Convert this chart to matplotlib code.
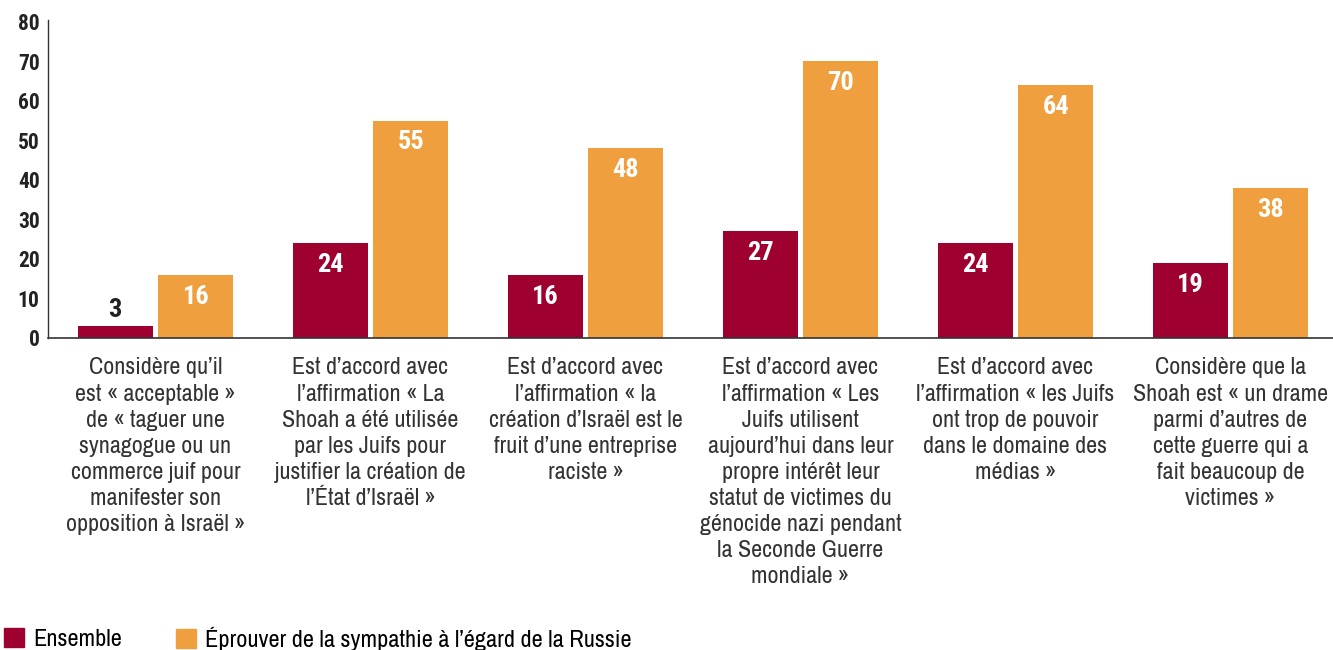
import matplotlib
matplotlib.use("Agg")
import matplotlib.pyplot as plt
from matplotlib.patches import Patch
from matplotlib import font_manager as fm
import numpy as np

names = {f.name for f in fm.fontManager.ttflist}
FONT = next((f for f in ["Archivo Narrow", "Roboto Condensed", "PT Sans Narrow", "IBM Plex Sans Condensed"]
             if f in names), "DejaVu Sans")
bold_ok = {f.name for f in fm.fontManager.ttflist
           if (isinstance(f.weight, int) and f.weight >= 700) or f.weight in ('bold', 'heavy', 'black')}
BOLD = next((f for f in ["Archivo Narrow", "Roboto Condensed", "Fira Sans Condensed", "Barlow Condensed",
                         "Asap Condensed", "PT Sans Narrow", "IBM Plex Sans Condensed", "Open Sans Condensed"]
             if f in bold_ok), "DejaVu Sans")
plt.rcParams['font.family'] = [FONT, 'DejaVu Sans']

categories = [
    "Considère qu’il\nest « acceptable »\nde « taguer une\nsynagogue ou un\ncommerce juif pour\nmanifester son\nopposition à Israël »",
    "Est d’accord avec\nl’affirmation « La\nShoah a été utilisée\npar les Juifs pour\njustifier la création de\nl’État d’Israël »",
    "Est d’accord avec\nl’affirmation « la\ncréation d’Israël est le\nfruit d’une entreprise\nraciste »",
    "Est d’accord avec\nl’affirmation « Les\nJuifs utilisent\naujourd’hui dans leur\npropre intérêt leur\nstatut de victimes du\ngénocide nazi pendant\nla Seconde Guerre\nmondiale »",
    "Est d’accord avec\nl’affirmation « les Juifs\nont trop de pouvoir\ndans le domaine des\nmédias »",
    "Considère que la\nShoah est « un drame\nparmi d’autres de\ncette guerre qui a\nfait beaucoup de\nvictimes »",
]
ensemble = [3, 24, 16, 27, 24, 19]
russie = [16, 55, 48, 70, 64, 38]
series_names = ["Ensemble", "Éprouver de la sympathie à l’égard de la Russie"]
yticks = [0, 10, 20, 30, 40, 50, 60, 70, 80]

RED = "#9E0030"
ORANGE = "#EF9F3E"

fig = plt.figure(figsize=(13.33, 6.5), dpi=100)
ax = fig.add_axes([48/1333, 1-338/650, 1-48/1333, 318/650])

x = np.arange(len(categories))
w = 0.349
off = 0.188
b1 = ax.bar(x - off, ensemble, w, color=RED)
b2 = ax.bar(x + off, russie, w, color=ORANGE)

ax.set_xlim(-0.5, 5.477)
ax.set_ylim(0, 80.5)
ax.set_yticks(yticks)
ax.set_yticklabels([str(t) for t in yticks], fontsize=15.5, fontweight='bold', color='#222222',
                   family=[BOLD, 'DejaVu Sans'])
ax.tick_params(axis='y', length=0, pad=6)
ax.set_xticks(x)
ax.set_xticklabels(categories, fontsize=17.3, color='#333333', linespacing=1.30, va='top')
ax.tick_params(axis='x', length=0, pad=14)

for s in ['top', 'right']:
    ax.spines[s].set_visible(False)
ax.spines['left'].set_color('#333333')
ax.spines['left'].set_linewidth(1.0)
ax.spines['bottom'].set_color('#333333')
ax.spines['bottom'].set_linewidth(1.2)

for bars in (b1, b2):
    for r in bars:
        v = r.get_height()
        cx = r.get_x() + r.get_width()/2
        if v < 8:
            ax.annotate(str(int(v)), (cx, v), xytext=(0, 3), textcoords='offset points',
                        ha='center', va='bottom', fontsize=19, fontweight='bold', color='#222222',
                        family=[BOLD, 'DejaVu Sans'])
        else:
            ax.annotate(str(int(v)), (cx, v), xytext=(0, -7), textcoords='offset points',
                        ha='center', va='top', fontsize=19, fontweight='bold', color='white',
                        family=[BOLD, 'DejaVu Sans'])

for color, label, xpos in [(RED, series_names[0], 0.0), (ORANGE, series_names[1], 172/1333)]:
    fig.legend([Patch(color=color)], [label], loc='center left', bbox_to_anchor=(xpos, 1-639/650),
               frameon=False, fontsize=17.5, handlelength=0.85, handleheight=0.85,
               handletextpad=0.35, borderaxespad=0.0, borderpad=0.15)

fig.savefig("out.png", dpi=100)
